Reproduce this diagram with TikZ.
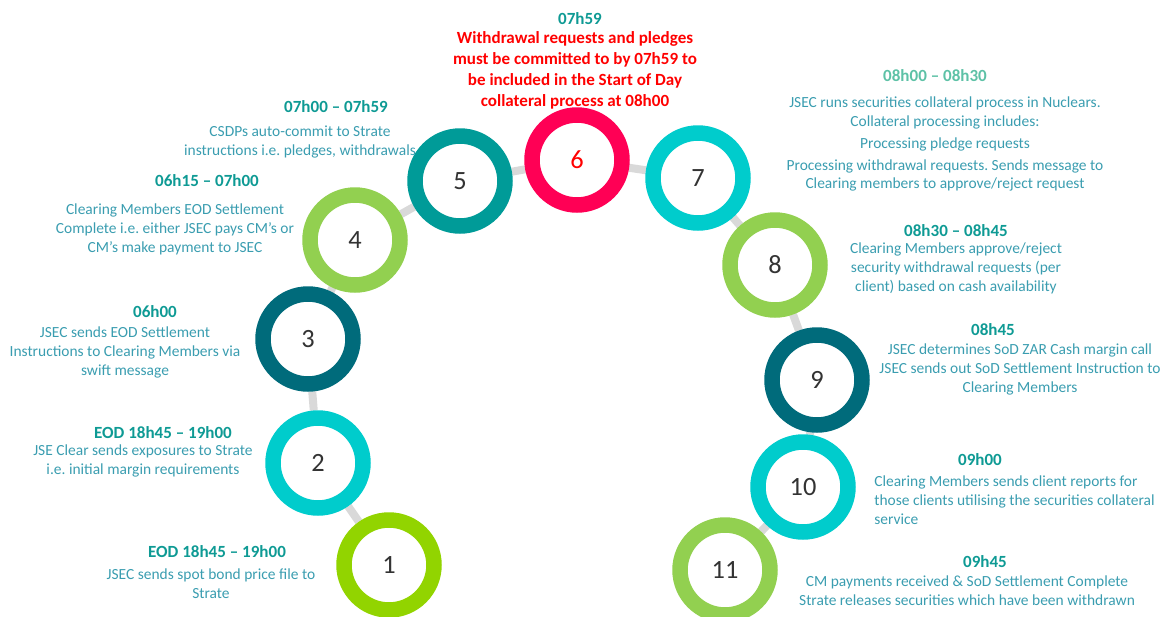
\documentclass[tikz,border=0pt]{standalone}
\usepackage{fontspec}
\setmainfont{Carlito}
\usetikzlibrary{backgrounds}
\frenchspacing
\definecolor{limecol}{HTML}{92D400}
\definecolor{greencol}{HTML}{92D050}
\definecolor{cyancol}{HTML}{00CCCC}
\definecolor{darkcol}{HTML}{006B7B}
\definecolor{tealcol}{HTML}{009B98}
\definecolor{pinkcol}{HTML}{FF0055}
\definecolor{linkcol}{HTML}{D9D9D9}
\definecolor{numcol}{HTML}{333333}
\definecolor{headcol}{HTML}{0E9A94}
\definecolor{mintcol}{HTML}{5DC1A6}
\definecolor{bodycol}{HTML}{3A9DB0}
\definecolor{alertcol}{HTML}{FF0000}
\tikzset{
  ring/.style={circle, draw=#1, line width=0.31cm, minimum size=1.8cm, inner sep=0pt,
    fill=white, text=numcol, font=\fontsize{15}{15}\selectfont},
  link/.style={draw=linkcol, line width=0.16cm},
  head/.style={inner sep=0pt, text=headcol, font=\fontsize{9.7}{11}\selectfont\bfseries},
  body/.style={inner sep=0pt, align=center, text=bodycol, font=\fontsize{8.8}{10.8}\selectfont},
}
\begin{document}
\begin{tikzpicture}[x=0.02cm, y=-0.02cm]
  \clip (0,0) rectangle (1167,616);

  \node[ring=limecol] (c1) at (389,565) {1};
  \node[ring=cyancol] (c2) at (318,463) {2};
  \node[ring=darkcol] (c3) at (308,339) {3};
  \node[ring=greencol] (c4) at (355,240) {4};
  \node[ring=tealcol] (c5) at (460,181) {5};
  \node[ring=pinkcol, text=alertcol] (c6) at (577,160) {6};
  \node[ring=cyancol] (c7) at (698,178) {7};
  \node[ring=greencol] (c8) at (775,265) {8};
  \node[ring=darkcol] (c9) at (817,380) {9};
  \node[ring=cyancol] (c10) at (803,487) {10};
  \node[ring=greencol] (c11) at (725,570) {11};

  \begin{pgfonlayer}{background}
    \path[link] (c1) edge (c2) (c2) edge (c3) (c3) edge (c4) (c4) edge (c5)
      (c5) edge (c6) (c6) edge (c7) (c7) edge (c8) (c8) edge (c9)
      (c9) edge (c10) (c10) edge (c11);
  \end{pgfonlayer}

  \node[head] (t1) at (217,552) {EOD 18h45 – 19h00};
  \node[body] (d1) at (211,584) {JSEC sends spot bond price file to\\Strate};

  \node[head] (t2) at (163,433) {EOD 18h45 – 19h00};
  \node[body] (d2) at (143,461) {JSE Clear sends exposures to Strate\\i.e. initial margin requirements};

  \node[head] (t3) at (155,312) {06h00};
  \node[body] (d3) at (125,352) {JSEC sends EOD Settlement\\Instructions to Clearing Members via\\swift message};

  \node[head] (t4) at (207,181) {06h15 – 07h00};
  \node[body] (d4) at (175,229) {Clearing Members EOD Settlement\\Complete i.e. either JSEC pays CM’s or\\CM’s make payment to JSEC};

  \node[head] (t5) at (336,107) {07h00 – 07h59};
  \node[body] (d5) at (300,142) {CSDPs auto-commit to Strate\\instructions i.e. pledges, withdrawals};

  \node[head] (t6) at (580,19) {07h59};
  \node[body, text=alertcol, font=\fontsize{9.7}{11.9}\selectfont\bfseries] (d6) at (575,70)
    {Withdrawal requests and pledges\\must be committed to by 07h59 to\\be included in the Start of Day\\collateral process at 08h00};

  \node[head, text=mintcol] (t7) at (935,76) {08h00 – 08h30};
  \node[body] (d7) at (945,144) {JSEC runs securities collateral process in Nuclears.\\Collateral processing includes:\\[0.06cm]
    Processing pledge requests\\[0.06cm]Processing withdrawal requests. Sends message to\\Clearing members to approve/reject request};

  \node[head] (t8) at (956,231) {08h30 – 08h45};
  \node[body] (d8) at (956,268) {Clearing Members approve/reject\\security withdrawal requests (per\\client) based on cash availability};

  \node[head] (t9) at (993,330) {08h45};
  \node[body] (d9) at (1020,369) {JSEC determines SoD ZAR Cash margin call\\JSEC sends out SoD Settlement Instruction to\\Clearing Members};

  \node[head] (t10) at (980,460) {09h00};
  \node[body, align=left, anchor=west] (d10) at (874,500) {Clearing Members sends client reports for\\those clients utilising the securities collateral\\service};

  \node[head] (t11) at (985,562) {09h45};
  \node[body] (d11) at (967,591) {CM payments received \& SoD Settlement Complete\\Strate releases securities which have been withdrawn};
\end{tikzpicture}
\end{document}
